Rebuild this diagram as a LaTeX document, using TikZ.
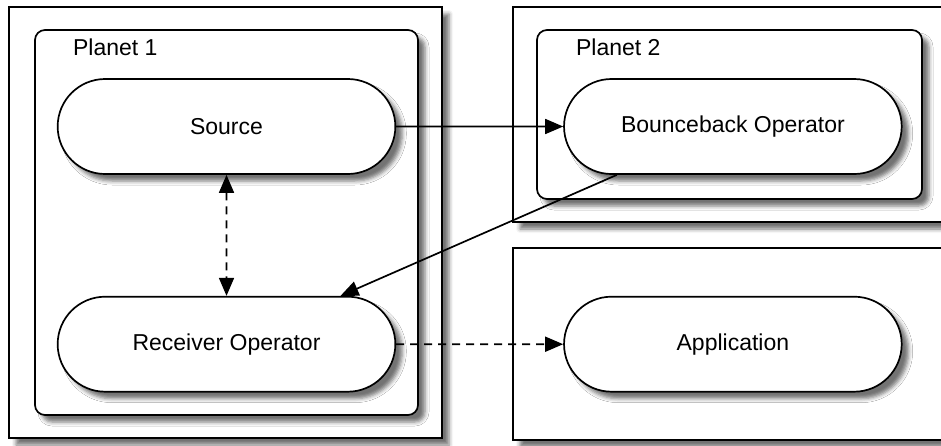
\documentclass[tikz,border=0pt]{standalone}
\usepackage{fontspec}
\setmainfont{Liberation Sans}
\usetikzlibrary{positioning}
\usetikzlibrary{arrows.meta, shapes.misc, shadows.blur}

\begin{document}
\begin{tikzpicture}[x=0.5pt, y=-0.5pt, font=\fontsize{11.5}{13}\selectfont]
\tikzstyle{shad} = [blur shadow={shadow xshift=3.5pt, shadow yshift=-3.5pt, shadow blur radius=2pt, shadow opacity=55}]
\tikzstyle{pill} = [draw, rounded rectangle, fill=white, line width=0.85pt, minimum width=175.5pt, minimum height=47.5pt, shad]
\tikzstyle{host} = [draw, fill=white, line width=0.85pt, shad]
\tikzstyle{planet} = [draw, fill=white, rounded corners=5pt, line width=0.85pt, shad]
\tikzstyle{line} = [draw, line width=0.85pt, -{Triangle[length=9pt, width=7.5pt]}]

\useasboundingbox (0,0) rectangle (941,445);

% hosts
\node [host, minimum width=216.5pt, minimum height=215.5pt] (h1) at (225.5,222.5) {};
\node [host, minimum width=226pt, minimum height=107.5pt] (h2) at (739,114.5) {};
\node [host, minimum width=226pt, minimum height=96pt] (h3) at (739,344) {};

% planets
\node [planet, minimum width=191.5pt, minimum height=192.5pt] (p1) at (226.5,222.5) {};
\node [planet, minimum width=192.5pt, minimum height=84.5pt] (p2) at (729.5,114.5) {};
\node [anchor=west] (p1lbl) at (66,47) {Planet 1};
\node [anchor=west] (p2lbl) at (569,47) {Planet 2};

% operators
\node [pill] (src) at (226.5,126.5) {Source};
\node [pill, below=60.5pt of src] (recv) {Receiver Operator};
\node [pill, right=83.5pt of src] (bb) {Bounceback Operator};
\node [pill, right=83.5pt of recv] (app) {Application};

\path [line] (src) -- (bb);
\path [line] ([xshift=-58pt]bb.south) -- ([xshift=57pt]recv.north);
\path [line, dash pattern=on 4pt off 3pt, {Triangle[length=9pt, width=7.5pt]}-{Triangle[length=9pt, width=7.5pt]}] (src) -- (recv);
\path [line, dash pattern=on 4pt off 3pt] (recv) -- (app);
\end{tikzpicture}
\end{document}
